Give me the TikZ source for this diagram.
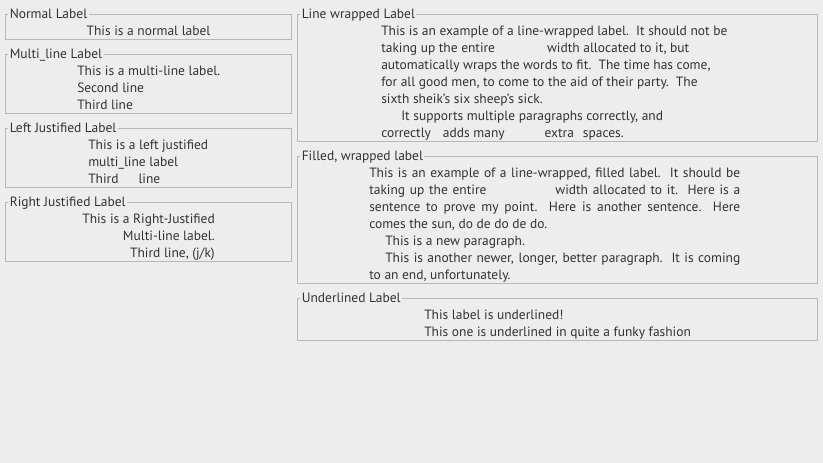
\documentclass[tikz,border=0pt]{standalone}
\usepackage{fontspec}
\setmainfont{PT Sans}
\usetikzlibrary{positioning}
\definecolor{bggray}{HTML}{EDEDED}
\definecolor{framegray}{HTML}{B8B8B8}
\definecolor{textgray}{HTML}{2E3436}
\newlength{\px}\setlength{\px}{0.75pt}
\newcommand{\gap}[1]{\hspace*{#1\px}}

\begin{document}
\begin{tikzpicture}[x=0.75pt, y=-0.75pt,
    labelframe/.style={draw=framegray, line width=1\px},
    frametitle/.style={fill=bggray, inner xsep=1.5\px, inner ysep=0pt, anchor=base west},
    bodyline/.style={inner sep=0pt, anchor=base west},
    every node/.style={text=textgray, font=\fontsize{10.1pt}{12.75pt}\selectfont}]
    % --- Window background ---
    \fill[bggray] (0,0) rectangle (823,463);
    \useasboundingbox (0,0) rectangle (823,463);

    % --- Frames with their titles ---
    \foreach \name/\xa/\ya/\xb/\yb/\caption in {
        normal/5.5/14.5/291.5/39.5/{Normal Label},
        multi/5.5/54.5/291.5/113.5/{Multi\_line Label},
        left/5.5/128.5/291.5/187.5/{Left Justified Label},
        right/5.5/202.5/291.5/261.5/{Right Justified Label},
        wrap/297.5/14.5/817.5/141.5/{Line wrapped Label},
        filled/297.5/156.5/817.5/283.5/{Filled, wrapped label},
        under/297.5/298.5/817.5/340.5/{Underlined Label}}
    {
        \draw[labelframe] (\xa,\ya) rectangle (\xb,\yb);
        \node[frametitle] (\name-title) at (\xa+2.5,\ya+4) {\caption};
    }

    % --- Normal label, centred ---
    \node[bodyline, anchor=base] (normal1) at (148.5,35.5) {This is a normal label};

    % --- Multi-line label ---
    \foreach \txt [count=\i] in {{This is a multi-line label.},{Second line},{Third line}}
        \node[bodyline] (multi\i) at (77,58.5+17*\i) {\txt};

    % --- Left justified label ---
    \foreach \txt [count=\i] in {{This is a left justified},{multi\_line label},{Third\gap{20}line}}
        \node[bodyline] (left\i) at (88,132.5+17*\i) {\txt};

    % --- Right justified label ---
    \foreach \txt [count=\i] in {{This is a Right-Justified},{Multi-line label.},{Third line, (j/k)}}
        \node[bodyline, anchor=base east] (right\i) at (215,206.5+17*\i) {\txt};

    % --- Line wrapped label ---
    \foreach \txt [count=\i] in {
        {This is an example of a line-wrapped label.\ \ It should not be},
        {taking up the entire\gap{52}width allocated to it, but},
        {automatically wraps the words to fit.\ \ The time has come,},
        {for all good men, to come to the aid of their party.\ \ The},
        {sixth sheik's six sheep's sick.},
        {\gap{20}It supports multiple paragraphs correctly, and},
        {correctly\gap{12}adds many\gap{40}extra\gap{9}spaces.}}
        \node[bodyline] (wrap\i) at (381,18.5+17*\i) {\txt};

    % --- Filled, wrapped label ---
    \foreach \txt [count=\i] in {
        {\makebox[371\px][s]{This is an example of a line-wrapped, filled label.\ \ It should be}},
        {\makebox[371\px][s]{taking up the entire\gap{69}width allocated to it.\ \ Here is a}},
        {\makebox[371\px][s]{sentence to prove my point.\ \ Here is another sentence.\ \ Here}},
        {comes the sun, do de do de do.},
        {\gap{16}This is a new paragraph.},
        {\gap{16}\makebox[355\px][s]{This is another newer, longer, better paragraph.\ \ It is coming}},
        {to an end, unfortunately.}}
        \node[bodyline] (filled\i) at (369,160.5+17*\i) {\txt};

    % --- Underlined label ---
    \foreach \txt [count=\i] in {{This label is underlined!},{This one is underlined in quite a funky fashion}}
        \node[bodyline] (under\i) at (424,302.5+17*\i) {\txt};
\end{tikzpicture}
\end{document}
